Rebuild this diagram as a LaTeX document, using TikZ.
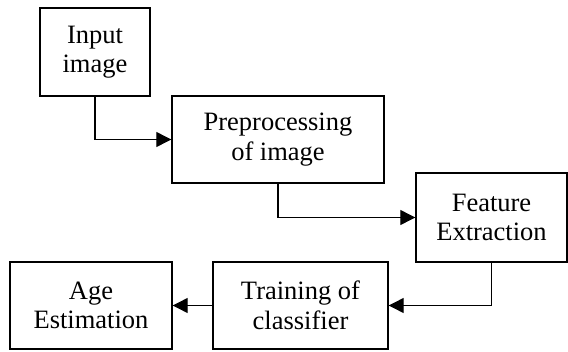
\documentclass[tikz,border=0pt]{standalone}
\usepackage{fontspec}
\setmainfont{Liberation Serif}
\usetikzlibrary{arrows.meta}

\begin{document}
\begin{tikzpicture}[x=1pt, y=-1pt]
\tikzset{etape/.style={draw, line width=1.4pt, align=center, inner sep=0pt,
  font=\fontsize{26.5}{29.5}\selectfont}}
\tikzset{fleche/.style={line width=1.2pt, -{Triangle[length=15pt, width=15pt]}}}
\useasboundingbox (0, 0) rectangle (568, 351);
\node[etape, minimum width=110pt, minimum height=88pt] (E1) at (95, 52) {Input\\image};
\node[etape, minimum width=212pt, minimum height=87pt] (E2) at (278, 139.5) {Preprocessing\\of image};
\node[etape, minimum width=151pt, minimum height=89pt] (E3) at (491.5, 217.5) {Feature\\Extraction};
\node[etape, minimum width=175pt, minimum height=87pt] (E4) at (300.5, 305.5) {Training of\\classifier};
\node[etape, minimum width=162pt, minimum height=87pt] (E5) at (91, 305.5) {Age\\Estimation};
\draw[fleche] (E1) |- (E2);
\draw[fleche] (E2) |- (E3);
\draw[fleche] (E3.south) |- (E4.east);
\draw[fleche] (E4) -- (E5);
\end{tikzpicture}
\end{document}
